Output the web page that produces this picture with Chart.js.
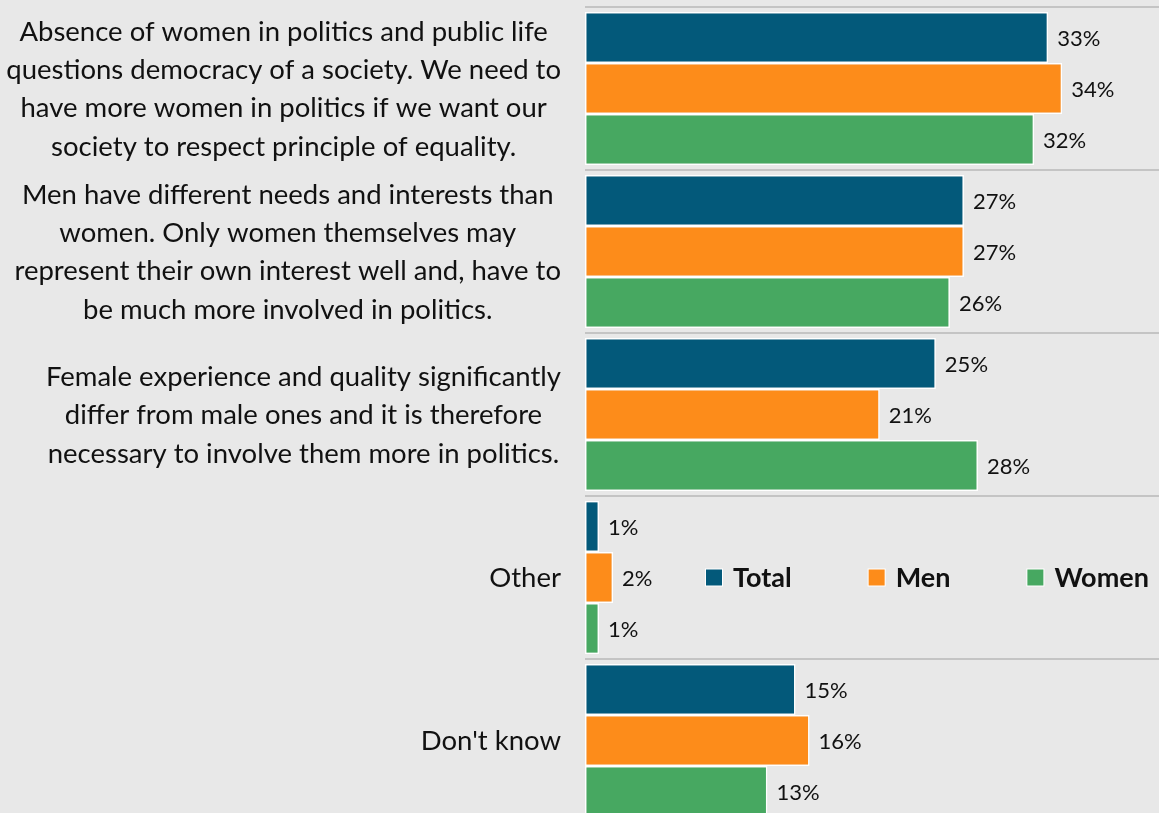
<!DOCTYPE html>
<html lang="en">
<head>
    <meta charset="UTF-8">
    <title>Why more women in politics</title>
    <script src="https://cdn.jsdelivr.net/npm/chart.js"></script>
    <style>
        html, body {
            margin: 0;
            padding: 0;
            overflow: hidden;
            background: #e8e8e8;
        }
        #wrap {
            position: relative;
            width: 1159px;
            height: 822px;
        }
    </style>
</head>
<body>
    <div id="wrap">
        <canvas id="reasonsChart"></canvas>
    </div>

    <script>
        // Answer categories (each line of a label is one array entry)
        const categories = [
            ['Absence of women in politics and public life', 'questions democracy of a society. We need to', 'have more women in politics if we want our', 'society to respect principle of equality.'],
            ['Men have different needs and interests than', 'women. Only women themselves may', 'represent their own interest well and, have to', 'be much more involved in politics.'],
            ['Female experience and quality significantly', 'differ from male ones and it is therefore', 'necessary to involve them more in politics.'],
            ['Other'],
            ["Don't know"]
        ];
        const seriesNames = ['Total', 'Men', 'Women'];
        const totalValues = [33, 27, 25, 1, 15];
        const menValues = [34, 27, 21, 2, 16];
        const womenValues = [32, 26, 28, 1, 13];
        const seriesColors = ['#03597a', '#fd8c1a', '#47a861'];

        const FONT = "Lato, 'Open Sans', sans-serif";

        // Grey page background behind everything
        const background = {
            id: 'background',
            beforeDraw(chart) {
                const ctx = chart.ctx;
                ctx.save();
                ctx.fillStyle = '#e8e8e8';
                ctx.fillRect(0, 0, chart.width, chart.height);
                ctx.restore();
            }
        };

        // Category text: lines centred within a block that is right-aligned to the plot
        const categoryText = {
            id: 'categoryText',
            afterDraw(chart) {
                const ctx = chart.ctx;
                const y = chart.scales.y;
                const right = chart.chartArea.left - 24;
                const lineH = 38.2;
                ctx.save();
                ctx.font = '27.5px ' + FONT;
                ctx.fillStyle = '#111';
                ctx.textAlign = 'center';
                ctx.textBaseline = 'middle';
                chart.data.labels.forEach((lines, i) => {
                    const cy = y.getPixelForValue(i) + 1;
                    const maxW = Math.max(...lines.map(l => ctx.measureText(l).width));
                    const cx = right - maxW / 2;
                    lines.forEach((l, j) => {
                        ctx.fillText(l, cx, cy + (j - (lines.length - 1) / 2) * lineH);
                    });
                });
                ctx.restore();
            }
        };

        // Percent labels at the end of each bar
        const valueLabels = {
            id: 'valueLabels',
            afterDatasetsDraw(chart) {
                const ctx = chart.ctx;
                ctx.save();
                ctx.font = '22px ' + FONT;
                ctx.fillStyle = '#111';
                ctx.textAlign = 'left';
                ctx.textBaseline = 'middle';
                chart.data.datasets.forEach((ds, di) => {
                    chart.getDatasetMeta(di).data.forEach((bar, i) => {
                        ctx.fillText(ds.data[i] + '%', bar.x + 9, bar.y + 1);
                    });
                });
                ctx.restore();
            }
        };

        // Legend drawn inside the plot, on the "Other" row
        const innerLegend = {
            id: 'innerLegend',
            afterDraw(chart) {
                const ctx = chart.ctx;
                const cy = chart.scales.y.getPixelForValue(3);
                let x = 706;
                ctx.save();
                ctx.font = 'bold 27px ' + FONT;
                ctx.textBaseline = 'middle';
                ctx.textAlign = 'left';
                chart.data.datasets.forEach(ds => {
                    ctx.fillStyle = '#fff';
                    ctx.fillRect(x - 1, cy - 9, 18, 18);
                    ctx.fillStyle = ds.backgroundColor;
                    ctx.fillRect(x, cy - 8, 16, 16);
                    ctx.fillStyle = '#111';
                    ctx.fillText(ds.label, x + 27, cy + 1);
                    x += 27 + ctx.measureText(ds.label).width + 77;
                });
                ctx.restore();
            }
        };

        const valueSets = [totalValues, menValues, womenValues];

        new Chart(document.getElementById('reasonsChart'), {
            type: 'bar',
            data: {
                labels: categories,
                datasets: seriesNames.map((name, i) => ({
                    label: name,
                    data: valueSets[i],
                    backgroundColor: seriesColors[i],
                    borderColor: '#ffffff',
                    borderWidth: 1.5,
                    borderSkipped: false,
                    categoryPercentage: 0.94,
                    barPercentage: 1
                }))
            },
            options: {
                indexAxis: 'y',
                responsive: true,
                maintainAspectRatio: false,
                animation: false,
                layout: {
                    padding: { left: 585, top: 7, right: 0, bottom: 0 }
                },
                plugins: {
                    legend: { display: false },
                    tooltip: { enabled: false }
                },
                scales: {
                    x: {
                        display: false,
                        min: 0,
                        max: 40.9
                    },
                    y: {
                        ticks: { display: false },
                        border: { display: false },
                        grid: {
                            offset: true,
                            drawTicks: false,
                            color: '#c4c4c4',
                            lineWidth: 2
                        }
                    }
                }
            },
            plugins: [background, categoryText, valueLabels, innerLegend]
        });
    </script>
</body>
</html>
